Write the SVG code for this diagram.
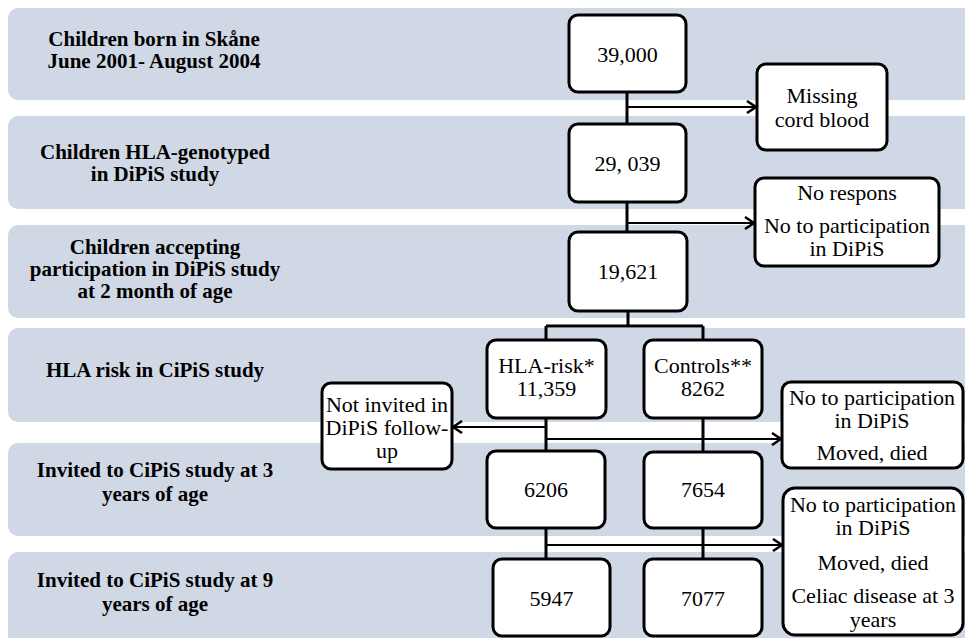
<svg xmlns="http://www.w3.org/2000/svg" width="965" height="638" viewBox="0 0 965 638">
<defs>
<style>
.band{fill:#D0D7E5;}
.box{fill:#ffffff;stroke:#000;stroke-width:3;}
.t{font-family:'Liberation Serif','DejaVu Serif',serif;font-size:22px;fill:#000;text-anchor:middle;}
.lbl{font-family:'Liberation Serif','DejaVu Serif',serif;font-size:21px;font-weight:bold;fill:#000;text-anchor:middle;}
.v{stroke:#000;stroke-width:3;fill:none;}
.a{stroke:#000;stroke-width:2;fill:none;marker-end:url(#arr);}
</style>
<marker id="arr" markerUnits="userSpaceOnUse" markerWidth="14" markerHeight="14" refX="11" refY="7" orient="auto">
<path d="M2,1 L11,7 L2,13" fill="none" stroke="#000" stroke-width="2.5"/>
</marker>
</defs>
<g id="bands">
<rect class="band" x="8" y="8" width="970" height="92" rx="10"/>
<rect class="band" x="8" y="116" width="970" height="93" rx="10"/>
<rect class="band" x="8" y="225" width="970" height="93" rx="10"/>
<rect class="band" x="8" y="328" width="970" height="94" rx="10"/>
<rect class="band" x="8" y="443" width="970" height="93" rx="10"/>
<rect class="band" x="8" y="552" width="970" height="100" rx="10"/>
</g>
<g id="labels">
<text class="lbl" x="154" y="46">Children born in Skåne</text>
<text class="lbl" x="154" y="68">June 2001- August 2004</text>
<text class="lbl" x="155" y="159">Children HLA-genotyped</text>
<text class="lbl" x="155" y="181">in DiPiS study</text>
<text class="lbl" x="155" y="254">Children accepting</text>
<text class="lbl" x="155" y="276">participation in DiPiS study</text>
<text class="lbl" x="155" y="298">at 2 month of age</text>
<text class="lbl" x="155" y="377">HLA risk in CiPiS study</text>
<text class="lbl" x="155" y="477">Invited to CiPiS study at 3</text>
<text class="lbl" x="155" y="501">years of age</text>
<text class="lbl" x="155" y="587">Invited to CiPiS study at 9</text>
<text class="lbl" x="155" y="611">years of age</text>
</g>
<g id="connectors">
<path class="v" d="M627,92 V124"/>
<path class="v" d="M627,202 V232"/>
<path class="v" d="M628,311 V326 M546,326 H703 M546,326 V340 M703,326 V340"/>
<path class="v" d="M546,418 V451 M703,418 V452"/>
<path class="v" d="M546,528 V559 M703,528 V559"/>
<path class="a" d="M627,107 H756"/>
<path class="a" d="M627,223 H754"/>
<path class="a" d="M546,427 H453"/>
<path class="a" d="M546,439 H781"/>
<path class="a" d="M546,545 H782"/>
</g>
<g id="n39000">
<rect class="box" x="569" y="15" width="117" height="77" rx="9"/>
<text class="t" x="627.5" y="62">39,000</text>
</g>
<g id="n29039">
<rect class="box" x="569" y="124" width="117" height="78" rx="9"/>
<text class="t" x="627.5" y="171">29, 039</text>
</g>
<g id="n19621">
<rect class="box" x="569" y="232" width="118" height="79" rx="9"/>
<text class="t" x="628" y="279">19,621</text>
</g>
<g id="nMissing">
<rect class="box" x="757" y="64" width="130" height="86" rx="9"/>
<text class="t" x="822" y="103">Missing</text>
<text class="t" x="822" y="127">cord blood</text>
</g>
<g id="nNoRespons">
<rect class="box" x="755" y="178" width="184" height="88" rx="9"/>
<text class="t" x="847" y="200">No respons</text>
<text class="t" x="847" y="233">No to participation</text>
<text class="t" x="847" y="256">in DiPiS</text>
</g>
<g id="nHLArisk">
<rect class="box" x="487" y="340" width="119" height="78" rx="9"/>
<text class="t" x="546.5" y="373">HLA-risk*</text>
<text class="t" x="546.5" y="396">11,359</text>
</g>
<g id="nControls">
<rect class="box" x="644" y="340" width="118" height="78" rx="9"/>
<text class="t" x="703" y="373">Controls**</text>
<text class="t" x="703" y="396">8262</text>
</g>
<g id="nNotInvited">
<rect class="box" x="322" y="383" width="130" height="86" rx="9"/>
<text class="t" x="387" y="412">Not invited in</text>
<text class="t" x="387" y="435">DiPiS follow-</text>
<text class="t" x="387" y="458">up</text>
</g>
<g id="nExcl1">
<rect class="box" x="782" y="382" width="181" height="86" rx="9"/>
<text class="t" x="872" y="405">No to participation</text>
<text class="t" x="872" y="428">in DiPiS</text>
<text class="t" x="872" y="460">Moved, died</text>
</g>
<g id="n6206">
<rect class="box" x="487" y="451" width="118" height="77" rx="9"/>
<text class="t" x="546" y="497">6206</text>
</g>
<g id="n7654">
<rect class="box" x="644" y="452" width="118" height="76" rx="9"/>
<text class="t" x="703" y="497">7654</text>
</g>
<g id="nExcl2">
<rect class="box" x="783" y="488" width="180" height="147" rx="12"/>
<text class="t" x="873" y="512">No to participation</text>
<text class="t" x="873" y="535">in DiPiS</text>
<text class="t" x="873" y="570">Moved, died</text>
<text class="t" x="873" y="603">Celiac disease at 3</text>
<text class="t" x="873" y="627">years</text>
</g>
<g id="n5947">
<rect class="box" x="493" y="559" width="117" height="77" rx="9"/>
<text class="t" x="551.5" y="606">5947</text>
</g>
<g id="n7077">
<rect class="box" x="644" y="559" width="118" height="77" rx="9"/>
<text class="t" x="703" y="606">7077</text>
</g>
</svg>
